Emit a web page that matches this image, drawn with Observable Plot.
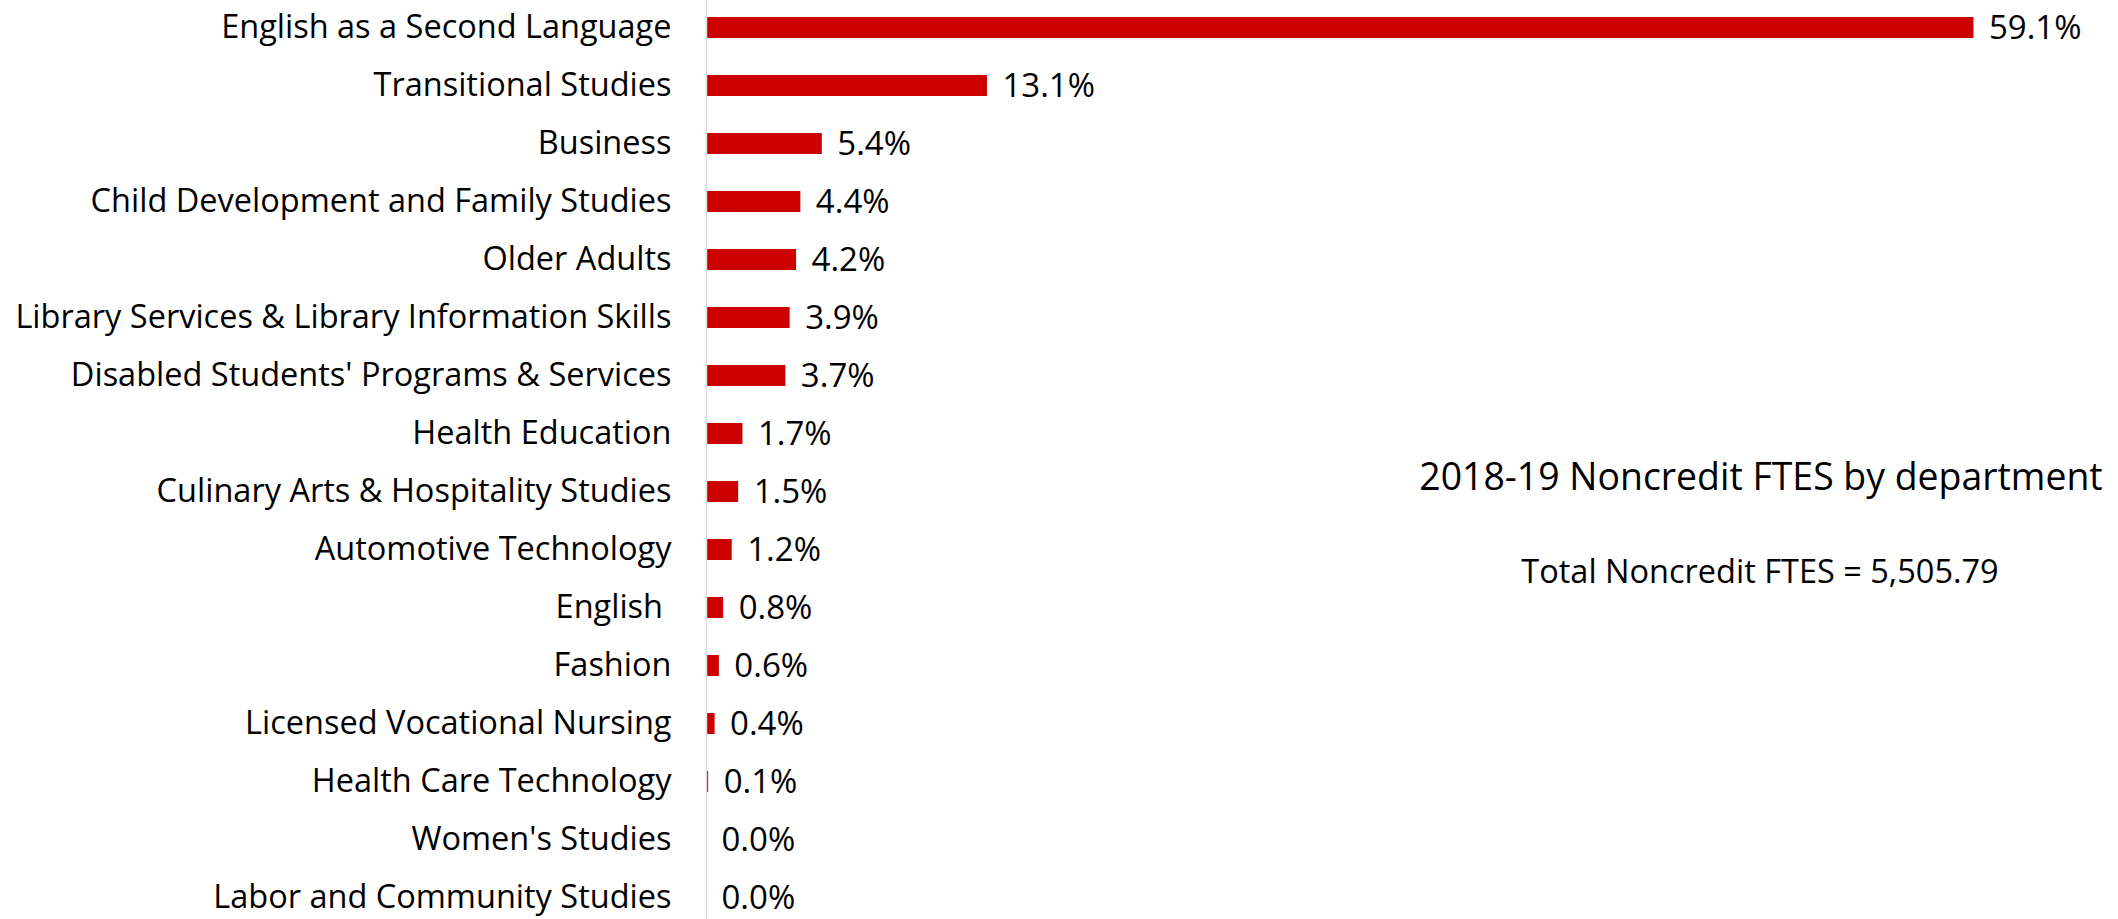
<!DOCTYPE html>
<html>
<head>
<meta charset="utf-8">
<script src="https://cdn.jsdelivr.net/npm/d3@7"></script>
<script src="https://cdn.jsdelivr.net/npm/@observablehq/plot@0.6"></script>
<style>
  html, body { margin: 0; padding: 0; background: #fff; overflow: hidden; }
  #wrap { position: relative; width: 2118px; height: 919px; font-family: "Open Sans", sans-serif; }
  .ann { position: absolute; transform: translate(-50%, -50%); white-space: nowrap; color: #000; font-family: "Open Sans", sans-serif; }
  #title { left: 1761px; top: 475px; font-size: 37.4px; }
  #total { left: 1760px; top: 570px; font-size: 32.5px; }
</style>
</head>
<body>
<div id="wrap">
  <div id="chart"></div>
  <div class="ann" id="title"></div>
  <div class="ann" id="total"></div>
</div>
<script>
const departments = [
  "English as a Second Language",
  "Transitional Studies",
  "Business",
  "Child Development and Family Studies",
  "Older Adults",
  "Library Services & Library Information Skills",
  "Disabled Students' Programs & Services",
  "Health Education",
  "Culinary Arts & Hospitality Studies",
  "Automotive Technology",
  "English ",
  "Fashion",
  "Licensed Vocational Nursing",
  "Health Care Technology",
  "Women's Studies",
  "Labor and Community Studies"
];
const shares = [59.1, 13.1, 5.4, 4.4, 4.2, 3.9, 3.7, 1.7, 1.5, 1.2, 0.8, 0.6, 0.4, 0.1, 0.0, 0.0];
const titleText = "2018-19 Noncredit FTES by department";
const totalText = "Total Noncredit FTES = 5,505.79";

const data = departments.map((d, i) => ({dept: d, value: shares[i]}));

const chart = Plot.plot({
  width: 2118,
  height: 919,
  marginLeft: 706,
  marginRight: 18,
  marginTop: 0,
  marginBottom: 0,
  style: {fontFamily: "Open Sans, sans-serif", color: "#000", background: "#fff"},
  x: {domain: [0, 65], axis: null},
  y: {domain: departments, range: [-1, 926], paddingInner: 0.64, paddingOuter: 0.3, label: null},
  marks: [
    Plot.barX(data, {x: "value", y: "dept", fill: "#cc0000"}),
    Plot.ruleX([0], {stroke: "#d9d9d9", strokeWidth: 1.5}),
    Plot.text(data, {x: "value", y: "dept", text: d => d.value.toFixed(1) + "%", textAnchor: "start", dx: 15, fontSize: 33, fill: "#000"}),
    Plot.axisY({tickSize: 0, tickPadding: 35, fontSize: 32.5, label: null, tickFormat: d => d.replace(/ $/, "\u00a0")})
  ]
});
document.getElementById("chart").appendChild(chart);
document.getElementById("title").textContent = titleText;
document.getElementById("total").textContent = totalText;
</script>
</body>
</html>
